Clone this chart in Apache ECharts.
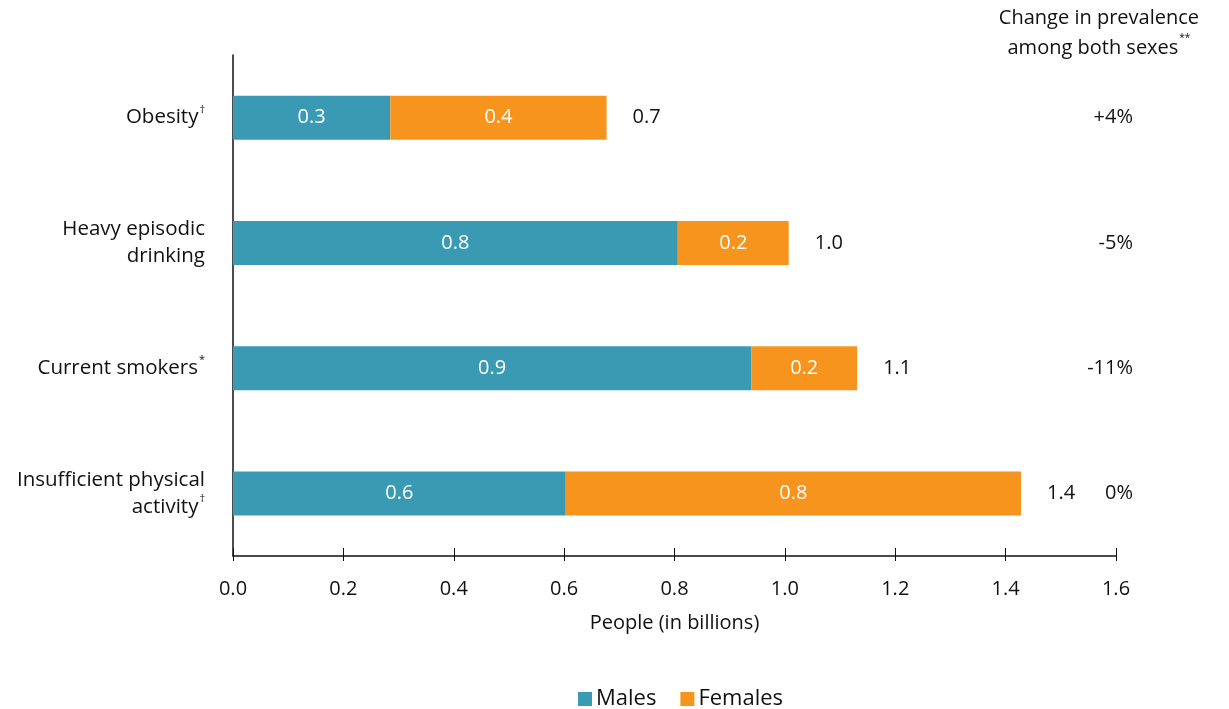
<!DOCTYPE html>
<html><head><meta charset="utf-8">
<script src="https://cdn.jsdelivr.net/npm/echarts@6/dist/echarts.min.js"></script>
<style>html,body{margin:0;padding:0;background:#fff}#c{width:1229px;height:709px}</style>
</head><body><div id="c"></div>
<script>
const categories = ['Obesity', 'Heavy episodic\ndrinking', 'Current smokers', 'Insufficient physical\nactivity'];
const categoryMarks = ['†', '', '*', '†'];
const males = [0.285, 0.806, 0.939, 0.603];
const females = [0.392, 0.201, 0.192, 0.825];
const maleLabels = ['0.3', '0.8', '0.9', '0.6'];
const femaleLabels = ['0.4', '0.2', '0.2', '0.8'];
const totals = [0.677, 1.007, 1.131, 1.428];
const totalLabels = ['0.7', '1.0', '1.1', '1.4'];
const changes = ['+4%', '-5%', '-11%', '0%'];
const xTicks = [0, 0.2, 0.4, 0.6, 0.8, 1.0, 1.2, 1.4, 1.6];

const FONT = '"Open Sans", "Noto Sans", sans-serif';
const TEAL = '#3A9AB3';
const ORANGE = '#F7941E';
const INK = '#111';
const rev = a => a.slice().reverse();

const chart = echarts.init(document.getElementById('c'));
const catLabelFormatter = (v) => {
  const idx = categories.indexOf(v);
  const mark = categoryMarks[idx];
  const lines = v.split('\n');
  return lines.map((l, k) => (k === lines.length - 1 && mark) ? '{t|' + l + '}{s|' + mark + '}' : '{t|' + l + '}').join('\n');
};
const xAxisBase = { type: 'value', min: 0, max: 1.6, interval: 0.2, gridIndex: 0 };
chart.setOption({
  animation: false,
  textStyle: { fontFamily: FONT },
  grid: { left: 233, right: 113, top: 55, bottom: 153 },
  legend: {
    bottom: -6, left: 573, itemWidth: 14, itemHeight: 14, itemGap: 24,
    icon: 'rect',
    textStyle: { fontSize: 22, color: INK, fontFamily: FONT, padding: [0, 0, 0, -1] },
    data: ['Males', 'Females']
  },
  xAxis: [
    Object.assign({}, xAxisBase, {
      position: 'bottom',
      name: 'People (in billions)', nameLocation: 'middle', nameGap: 57,
      nameTextStyle: { fontSize: 20, color: INK, fontFamily: FONT },
      axisLine: { show: true, lineStyle: { color: INK, width: 1.5 } },
      axisTick: { show: true, inside: true, length: 8, lineStyle: { color: INK, width: 1 } },
      axisLabel: { margin: 23, fontSize: 20, color: INK, fontFamily: FONT,
        formatter: v => xTicks.includes(Math.round(v * 10) / 10) ? v.toFixed(1) : '' },
      splitLine: { show: false }
    }),
    Object.assign({}, xAxisBase, {
      position: 'bottom',
      axisLine: { show: false },
      axisTick: { show: true, inside: false, length: 5, lineStyle: { color: INK, width: 1 } },
      axisLabel: { show: false },
      splitLine: { show: false }
    })
  ],
  yAxis: [
    {
      type: 'category', data: rev(categories),
      axisLine: { show: true, lineStyle: { color: INK, width: 1.5 } },
      axisTick: { show: false },
      axisLabel: {
        margin: 28, align: 'right', lineHeight: 27,
        formatter: catLabelFormatter,
        rich: {
          t: { fontSize: 20.5, color: INK, fontFamily: FONT, lineHeight: 27 },
          s: { fontSize: 11, color: INK, fontFamily: FONT, verticalAlign: 'top', lineHeight: 27, padding: [0, 0, 10, 1] }
        }
      }
    },
    {
      type: 'category', data: rev(changes), position: 'right',
      axisLine: { show: false }, axisTick: { show: false },
      axisLabel: { margin: 17, align: 'right', fontSize: 20, color: INK, fontFamily: FONT }
    }
  ],
  graphic: [{
    type: 'text', right: 30, top: 8,
    style: {
      text: '{h|Change in prevalence}\n{h|among both sexes}{s|**}',
      align: 'center',
      rich: {
        h: { fontSize: 20, fill: INK, fontFamily: FONT, lineHeight: 30, align: 'center' },
        s: { fontSize: 10, fill: INK, fontFamily: FONT, verticalAlign: 'top', lineHeight: 30, padding: [0, 0, 12, 1] }
      }
    }
  }],
  series: [
    {
      name: 'Males', type: 'bar', stack: 'all', barWidth: 44,
      itemStyle: { color: TEAL },
      label: { show: true, position: 'inside', color: '#fff', fontSize: 20, fontFamily: FONT,
        formatter: p => rev(maleLabels)[p.dataIndex] },
      data: rev(males)
    },
    {
      name: 'Females', type: 'bar', stack: 'all', barWidth: 44,
      itemStyle: { color: ORANGE },
      label: { show: true, position: 'inside', color: '#fff', fontSize: 20, fontFamily: FONT,
        formatter: p => rev(femaleLabels)[p.dataIndex] },
      data: rev(females)
    },
    {
      name: 'Total', type: 'scatter', symbolSize: 0, silent: true,
      itemStyle: { opacity: 1, color: INK },
      label: { show: true, position: 'right', distance: 26, color: INK, opacity: 1, fontSize: 20, fontFamily: FONT,
        formatter: p => rev(totalLabels)[p.dataIndex] },
      data: rev(totals).map((t, i) => [t, i])
    }
  ]
});
</script></body></html>
